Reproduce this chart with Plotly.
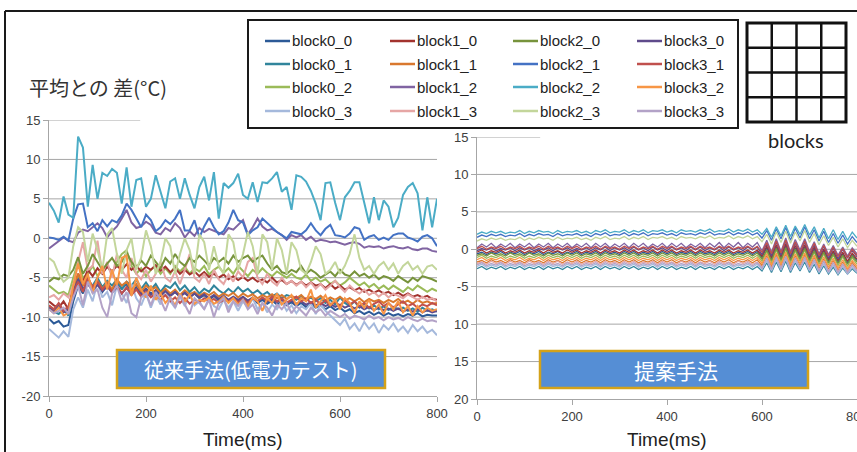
import plotly.graph_objects as go

W, H = 857, 452

time_ms = list(range(0, 801, 10))
x_ticks = [0, 200, 400, 600, 800]
x_ticktext = ["0", "200", "400", "600", "800"]
y_ticks = [-20, -15, -10, -5, 0, 5, 10, 15]
left_y_ticktext = ["-20", "-15", "-10", "-5", "0", "5", "10", "15"]
right_y_ticktext = ["20", "15", "10", "-5", "0", "5", "10", "15"]

# legend order (row-major, 4 columns)
block_names = ["block0_0", "block1_0", "block2_0", "block3_0",
               "block0_1", "block1_1", "block2_1", "block3_1",
               "block0_2", "block1_2", "block2_2", "block3_2",
               "block0_3", "block1_3", "block2_3", "block3_3"]
block_colors = ["#2C5A97", "#A2332E", "#77933C", "#5F4B8B",
                "#31859C", "#D9782E", "#4472C4", "#C0504D",
                "#9BBB59", "#8064A2", "#4BACC6", "#F79646",
                "#A5B9DC", "#E6A6A5", "#C3D69B", "#B3A2C7"]

# ---------------- left chart (conventional method) ----------------
left_b00 = [-10.2,-10.8,-10.5,-11.2,-11.0,-8.0,-6.0,-7.0,-5.5,-6.5,
            -5.8,-6.8,-6.0,-6.6,-5.6,-6.4,-5.8,-6.8,-6.2,-7.0,
            -6.4,-7.0,-6.6,-7.2,-6.5,-7.3,-6.8,-7.4,-6.9,-7.5,
            -7.0,-7.6,-7.2,-7.8,-7.3,-7.9,-7.4,-8.0,-7.5,-8.0,
            -7.6,-8.1,-7.6,-8.2,-7.8,-8.3,-7.9,-8.4,-8.0,-8.5,
            -8.1,-8.6,-8.2,-8.7,-8.3,-8.8,-8.5,-9.0,-8.6,-9.1,
            -8.8,-9.3,-9.0,-9.5,-9.2,-9.6,-9.3,-9.7,-9.4,-9.8,
            -9.5,-9.8,-9.6,-9.9,-9.6,-9.8,-9.5,-9.9,-9.7,-9.8,
            -9.8]
left_b10 = [-8.0,-8.5,-8.8,-8.0,-9.0,-6.0,-4.5,-5.5,-4.0,-4.8,
            -3.8,-4.5,-3.6,-4.2,-3.5,-4.0,-3.3,-4.0,-3.5,-4.2,
            -3.6,-4.0,-3.4,-4.1,-3.6,-4.3,-3.8,-4.5,-4.0,-4.6,
            -4.2,-4.8,-4.3,-4.9,-4.5,-5.0,-4.6,-5.2,-4.8,-5.3,
            -4.9,-5.4,-5.0,-5.5,-5.2,-5.6,-5.0,-5.6,-5.3,-5.8,
            -5.4,-5.9,-5.5,-6.0,-5.6,-6.0,-5.8,-6.3,-5.8,-6.4,
            -6.0,-6.5,-6.2,-6.6,-6.3,-6.8,-6.5,-6.9,-6.6,-7.0,
            -6.8,-7.2,-6.9,-7.3,-7.0,-7.4,-7.2,-7.5,-7.3,-7.7,
            -7.8]
left_b20 = [-5.5,-5.0,-5.2,-4.6,-4.8,-4.0,-2.4,-4.5,-3.5,-2.0,
            -3.0,-4.0,-3.2,-2.5,-3.5,-3.0,-1.8,-3.0,-3.8,-2.8,
            -3.5,-2.2,-3.0,-3.8,-2.5,-3.2,-2.0,-3.0,-3.5,-2.5,
            -3.0,-2.2,-2.8,-3.5,-2.5,-3.0,-2.5,-3.2,-2.2,-3.0,
            -2.5,-2.2,-3.0,-2.5,-2.2,-3.2,-4.0,-3.5,-4.3,-4.5,
            -4.0,-4.3,-3.5,-4.5,-4.0,-4.4,-5.0,-4.6,-4.2,-4.8,
            -4.0,-4.6,-4.8,-4.2,-4.8,-4.5,-5.0,-4.6,-5.2,-4.8,
            -5.0,-5.4,-4.8,-5.2,-5.6,-5.0,-5.4,-4.8,-5.0,-5.2,
            -5.5]
left_b30 = [-8.8,-9.2,-8.6,-9.4,-9.0,-6.8,-5.2,-6.4,-5.8,-6.6,
            -5.9,-6.7,-6.1,-6.9,-6.2,-7.0,-6.3,-7.0,-6.4,-7.1,
            -6.5,-7.2,-6.6,-7.3,-6.7,-7.3,-6.8,-7.4,-6.9,-7.5,
            -7.0,-7.5,-7.1,-7.6,-7.2,-7.7,-7.3,-7.8,-7.4,-7.8,
            -7.4,-7.9,-7.5,-8.0,-7.6,-8.0,-7.7,-8.1,-7.8,-8.2,
            -7.9,-8.3,-8.0,-8.4,-8.1,-8.5,-8.2,-8.6,-8.3,-8.7,
            -8.4,-8.8,-8.5,-8.9,-8.6,-9.0,-8.7,-9.1,-8.8,-9.1,
            -8.9,-9.2,-8.9,-9.3,-9.0,-9.3,-9.0,-9.4,-9.1,-9.4,
            -9.2]
left_b01 = [-9.0,-9.3,-9.6,-9.0,-9.8,-7.0,-5.0,-6.5,-5.5,-6.0,
            -5.0,-6.2,-5.4,-6.0,-5.2,-6.5,-5.5,-6.0,-5.2,-6.4,
            -5.6,-6.5,-5.8,-6.8,-6.0,-6.3,-5.6,-6.6,-6.0,-6.8,
            -6.2,-7.0,-6.4,-6.8,-6.0,-6.6,-7.0,-6.4,-6.9,-6.2,
            -6.8,-6.4,-7.0,-6.6,-7.2,-6.8,-7.4,-7.0,-7.6,-7.2,
            -7.4,-7.8,-7.3,-7.9,-7.5,-8.0,-7.6,-8.2,-7.8,-8.4,
            -7.5,-8.2,-8.6,-8.0,-8.8,-8.3,-8.9,-8.5,-9.0,-8.6,
            -9.1,-8.7,-9.0,-8.8,-9.2,-8.9,-9.3,-8.8,-9.2,-9.0,
            -9.3]
left_b11 = [-8.6,-9.0,-8.4,-9.2,-8.8,-6.5,-4.5,-6.0,-5.0,-6.2,
            -5.4,-6.4,-5.6,-6.5,-5.2,-6.0,-5.5,-6.6,-5.8,-6.8,
            -6.0,-6.6,-6.2,-7.0,-6.4,-7.0,-6.5,-7.2,-6.6,-7.1,
            -6.8,-7.3,-6.9,-7.2,-6.8,-7.4,-7.0,-7.3,-6.9,-7.5,
            -7.0,-7.4,-7.1,-7.6,-7.2,-7.5,-7.1,-7.6,-7.2,-7.7,
            -7.3,-7.6,-7.2,-7.8,-7.4,-7.7,-7.3,-7.9,-7.5,-7.8,
            -7.4,-7.9,-7.6,-8.0,-7.6,-8.1,-7.7,-8.0,-7.8,-8.2,
            -7.8,-8.1,-7.7,-8.2,-7.9,-8.3,-7.8,-8.2,-8.0,-8.3,
            -8.2]
left_b21 = [0.1,0.0,-0.2,0.2,-0.3,2.5,4.3,4.4,1.4,1.9,
            0.9,2.3,1.5,2.3,2.0,2.9,4.4,3.6,2.5,1.4,
            3.0,2.3,0.9,1.4,2.3,1.8,2.5,3.6,1.0,1.0,
            2.3,0.1,1.5,2.6,1.4,0.5,0.9,2.0,3.6,2.3,
            2.0,0.4,1.0,1.4,2.5,1.9,1.3,0.8,0.4,0.0,
            0.8,0.6,0.5,1.0,1.9,1.0,0.4,1.2,1.7,0.4,
            0.3,0.1,0.6,1.4,1.2,-0.2,0.2,0.4,-0.2,0.1,
            -0.2,0.4,0.6,0.6,0.1,-0.1,-0.4,0.2,0.4,0.0,
            -1.0]
left_b31 = [-8.5,-9.0,-8.2,-9.2,-8.6,-7.0,-5.5,-6.8,-5.0,-6.2,
            -5.5,-6.5,-5.8,-6.8,-6.0,-7.0,-6.2,-7.2,-6.5,-7.4,
            -6.8,-7.5,-7.0,-7.8,-7.2,-8.0,-7.5,-8.2,-7.6,-8.3,
            -7.8,-8.1,-7.6,-8.0,-7.7,-8.2,-7.8,-8.0,-7.6,-8.1,
            -7.7,-8.2,-7.6,-8.0,-7.5,-7.9,-7.4,-8.0,-7.6,-8.2,
            -7.8,-7.4,-8.0,-7.6,-8.2,-7.8,-8.4,-7.9,-8.5,-8.0,
            -8.6,-7.8,-8.4,-8.0,-8.6,-8.2,-8.8,-8.3,-8.0,-8.6,
            -8.2,-8.8,-8.4,-8.0,-8.6,-8.3,-8.8,-8.4,-8.6,-8.2,
            -8.5]
left_b02 = [-6.0,-6.5,-7.0,-6.8,-7.2,-5.0,-3.0,-5.0,-4.5,-3.5,
            -4.8,-4.0,-3.5,-4.5,-3.0,-2.0,-1.5,-3.5,-4.5,-3.8,
            -4.8,-4.0,-3.5,-4.5,-3.8,-4.5,-3.5,-4.2,-3.6,-4.5,
            -3.8,-4.2,-3.5,-4.6,-4.0,-3.6,-4.4,-3.8,-4.5,-3.5,
            -4.2,-4.8,-4.0,-4.5,-3.8,-4.4,-4.8,-4.2,-4.6,-5.0,
            -4.5,-5.0,-5.2,-4.6,-5.4,-5.0,-5.5,-5.2,-5.8,-5.4,
            -6.0,-5.6,-5.0,-5.5,-6.0,-5.6,-6.2,-5.8,-6.4,-6.0,
            -6.5,-6.0,-6.4,-6.8,-6.2,-6.6,-6.0,-6.4,-6.8,-6.4,
            -6.7]
left_b12 = [-1.3,-0.8,-0.4,0.1,-0.3,-0.5,0.7,1.1,0.9,1.4,
            1.9,1.3,0.1,0.9,1.5,2.5,3.6,2.0,1.3,1.5,
            2.1,1.7,0.7,0.5,1.3,0.9,1.9,1.3,0.1,0.9,
            0.3,1.3,0.8,1.2,0.9,0.7,0.5,1.3,1.1,1.7,
            2.3,0.5,1.4,2.5,1.5,1.0,1.2,0.8,0.4,-0.2,
            0.4,0.1,0.4,-0.2,0.2,-0.4,-0.2,-0.3,-0.5,-0.4,
            -0.6,-0.8,-0.6,-0.5,-0.7,-1.2,-1.0,-1.1,-1.0,-1.3,
            -1.1,-1.0,-1.2,-1.3,-1.1,-1.4,-1.5,-1.3,-1.3,-1.6,
            -1.7]
left_b22 = [4.5,3.5,2.0,5.3,3.0,2.6,12.9,11.5,4.0,9.3,
            5.0,8.3,7.9,8.8,8.3,4.4,9.0,4.0,7.4,7.6,
            4.0,5.0,8.0,5.8,3.8,7.2,7.6,5.0,7.6,5.5,
            3.8,6.5,7.8,4.8,8.4,2.5,7.0,6.4,7.0,8.2,
            5.5,5.0,7.1,4.6,7.1,7.0,7.6,8.4,5.9,6.5,
            3.6,8.0,7.8,7.2,6.0,4.4,2.3,7.0,7.1,4.5,
            2.3,5.2,6.0,7.1,7.1,4.5,1.9,5.2,2.3,4.8,
            4.0,1.4,2.6,5.5,6.5,7.0,5.7,1.0,5.2,1.4,
            5.0]
left_b32 = [-9.0,-9.5,-8.8,-9.8,-9.5,-6.0,-3.2,-5.8,-4.5,-6.9,
            -5.0,-3.5,-6.5,-4.0,-6.0,-2.5,-2.2,-7.3,-5.0,-6.5,
            -7.5,-6.0,-7.8,-7.0,-8.2,-7.5,-8.5,-7.0,-8.0,-7.2,
            -8.3,-7.8,-8.0,-7.5,-8.3,-8.0,-7.4,-8.2,-7.6,-8.4,
            -7.8,-8.6,-7.5,-8.0,-9.2,-7.6,-8.2,-7.0,-8.4,-7.8,
            -7.2,-8.5,-7.6,-8.0,-6.5,-8.8,-8.0,-7.2,-8.5,-7.8,
            -9.0,-7.6,-8.2,-9.5,-8.0,-8.8,-7.8,-9.2,-8.4,-9.6,
            -8.2,-9.0,-8.0,-9.4,-8.6,-9.8,-8.6,-9.4,-8.8,-9.2,
            -9.0]
left_b03 = [-11.5,-12.0,-12.6,-11.8,-12.5,-9.0,-7.5,-8.8,-6.5,-8.0,
            -5.5,-7.5,-6.8,-8.5,-6.0,-7.0,-8.2,-5.8,-7.6,-8.5,
            -7.0,-8.8,-7.2,-8.4,-6.5,-8.0,-8.8,-7.4,-8.6,-7.0,
            -8.5,-8.0,-9.0,-7.5,-8.6,-9.0,-7.8,-8.8,-8.0,-9.2,
            -8.0,-8.8,-7.6,-9.0,-8.2,-9.4,-8.4,-9.0,-8.0,-9.2,
            -8.5,-9.5,-8.6,-9.0,-8.2,-9.6,-8.4,-9.2,-9.8,-10.5,
            -11.0,-10.2,-11.5,-10.8,-11.8,-10.6,-11.5,-10.8,-12.0,-11.0,
            -11.6,-10.8,-11.8,-11.2,-12.0,-11.0,-11.8,-11.2,-12.0,-11.6,
            -12.3]
left_b13 = [-7.5,-7.2,-7.8,-7.0,-7.5,-6.0,-3.0,-0.5,-4.0,-3.5,
            -0.3,-4.5,-3.0,-5.0,-2.0,-4.0,-5.0,-2.5,-4.5,-5.2,
            -4.0,-5.5,-4.5,-3.0,-5.0,-5.5,-4.2,-5.8,-4.0,-2.0,
            -5.0,-5.5,-4.5,-5.8,-4.0,-5.2,-5.8,-4.6,-5.5,-4.2,
            -5.0,-3.0,-2.5,-5.0,-5.8,-4.5,-5.5,-6.0,-5.0,-5.8,
            -5.4,-6.0,-5.5,-6.2,-5.6,-6.4,-5.8,-6.5,-6.0,-5.4,
            -6.2,-6.8,-6.0,-6.6,-7.0,-6.5,-7.2,-6.8,-7.4,-6.9,
            -7.5,-7.0,-7.3,-7.6,-7.1,-7.5,-7.8,-7.4,-7.8,-7.6,
            -8.0]
left_b23 = [-2.5,-3.0,-4.5,-5.5,-5.0,-1.0,1.4,0.8,-3.0,0.6,
            -1.5,-4.0,0.5,1.3,-2.0,-4.5,-1.5,0.0,-4.0,-2.5,
            1.0,-1.0,-4.5,-3.0,0.0,-1.0,-4.5,-2.0,0.0,-1.5,
            -4.5,0.5,-0.5,-4.0,-1.0,-3.5,-4.5,0.5,-0.5,-4.0,
            -2.0,0.8,-1.0,-4.5,0.5,-0.5,-4.0,0.0,-1.5,-4.5,
            -0.5,-1.5,-4.0,-4.5,-3.0,-1.0,-2.0,-4.5,-4.0,-3.0,
            -4.5,-3.5,-2.0,0.5,-2.5,-4.0,-3.5,-4.5,-3.5,-3.0,
            -4.0,-3.2,-4.5,-3.5,-3.0,-4.0,-3.5,-4.5,-3.6,-3.4,
            -4.0]
left_b33 = [-9.0,-9.5,-9.2,-8.8,-9.6,-7.5,-6.0,-8.5,-5.5,-7.0,
            -6.5,-8.8,-10.0,-7.0,-6.0,-8.0,-6.8,-9.5,-10.0,-7.5,
            -7.0,-8.5,-6.8,-7.8,-9.2,-7.5,-8.8,-7.2,-8.4,-9.6,
            -7.6,-8.2,-9.0,-7.8,-10.0,-8.2,-7.6,-9.4,-8.0,-8.6,
            -7.8,-9.0,-8.4,-9.6,-8.2,-8.8,-9.8,-8.4,-9.0,-8.2,
            -9.5,-8.6,-9.2,-9.8,-8.8,-9.4,-9.0,-9.8,-9.2,-9.6,
            -10.0,-9.6,-10.2,-9.8,-10.0,-10.3,-9.8,-10.2,-10.0,-10.4,
            -10.0,-10.3,-10.1,-10.4,-10.0,-10.3,-10.5,-10.2,-10.5,-10.4,
            -10.6]

# ---------------- right chart (proposed method) ----------------
right_b00 = [-0.6,-0.4,-0.7,-0.4,-0.6,-0.3,-0.7,-0.4,-0.6,-0.3,
             -0.7,-0.4,-0.6,-0.3,-0.7,-0.4,-0.6,-0.3,-0.7,-0.4,
             -0.6,-0.3,-0.7,-0.4,-0.6,-0.3,-0.7,-0.3,-0.6,-0.4,
             -0.7,-0.3,-0.6,-0.3,-0.7,-0.4,-0.6,-0.3,-0.7,-0.3,
             -0.6,-0.3,-0.7,-0.4,-0.6,-0.3,-0.7,-0.3,-0.6,-0.4,
             -0.7,-0.3,-0.6,-0.3,-0.7,-0.4,-0.6,-0.3,-0.7,-0.3,
             -1.1,0.2,-1.3,0.3,-1.2,0.4,-1.3,0.2,-1.1,0.3,
             -1.3,0.0,-1.5,-0.2,-1.6,-0.4,-1.7,-0.6,-1.8,-0.7,
             -1.5]
right_b10 = [-0.4,-0.1,-0.5,-0.2,-0.4,-0.1,-0.5,-0.2,-0.4,-0.1,
             -0.5,-0.2,-0.4,-0.1,-0.5,-0.1,-0.4,-0.2,-0.5,-0.1,
             -0.4,-0.1,-0.5,-0.2,-0.4,-0.1,-0.5,-0.1,-0.4,-0.2,
             -0.5,-0.1,-0.4,-0.1,-0.5,-0.2,-0.4,-0.1,-0.5,-0.1,
             -0.4,-0.1,-0.5,-0.2,-0.4,-0.1,-0.5,-0.1,-0.4,-0.2,
             -0.5,-0.1,-0.4,-0.1,-0.5,-0.2,-0.4,-0.1,-0.5,-0.1,
             -0.9,0.4,-1.1,0.6,-1.0,0.7,-1.1,0.5,-0.9,0.6,
             -1.1,0.3,-1.3,0.0,-1.4,-0.2,-1.5,-0.4,-1.6,-0.5,
             -1.3]
right_b20 = [-0.8,-0.6,-0.9,-0.5,-0.8,-0.6,-0.9,-0.5,-0.8,-0.6,
             -0.9,-0.5,-0.8,-0.6,-0.9,-0.5,-0.8,-0.6,-0.9,-0.5,
             -0.8,-0.5,-0.9,-0.6,-0.8,-0.5,-0.9,-0.5,-0.8,-0.6,
             -0.9,-0.5,-0.8,-0.5,-0.9,-0.6,-0.8,-0.5,-0.9,-0.5,
             -0.8,-0.5,-0.9,-0.6,-0.8,-0.5,-0.9,-0.5,-0.8,-0.6,
             -0.9,-0.5,-0.8,-0.5,-0.9,-0.6,-0.8,-0.5,-0.9,-0.5,
             -1.3,-0.1,-1.5,0.1,-1.4,0.2,-1.5,0.0,-1.3,0.1,
             -1.5,-0.2,-1.7,-0.4,-1.8,-0.6,-1.9,-0.8,-2.0,-0.9,
             -1.7]
right_b30 = [-0.2,0.1,-0.1,0.2,-0.2,0.1,-0.1,0.2,-0.2,0.2,
             -0.1,0.2,-0.2,0.1,-0.1,0.2,-0.2,0.2,-0.1,0.2,
             -0.2,0.1,-0.1,0.2,-0.2,0.2,-0.1,0.3,-0.2,0.2,
             -0.1,0.2,-0.2,0.3,-0.1,0.2,-0.2,0.3,-0.1,0.2,
             -0.2,0.3,-0.1,0.2,-0.2,0.3,-0.1,0.3,-0.2,0.2,
             -0.1,0.3,-0.2,0.3,-0.1,0.2,-0.2,0.3,-0.1,0.3,
             -0.7,0.8,-0.9,1.0,-0.8,1.1,-1.0,0.9,-0.7,1.0,
             -0.9,0.6,-1.1,0.4,-1.2,0.2,-1.3,0.0,-1.2,-0.1,
             -1.0]
right_b01 = [-2.6,-2.3,-2.7,-2.4,-2.6,-2.3,-2.7,-2.4,-2.6,-2.3,
             -2.7,-2.4,-2.6,-2.3,-2.7,-2.3,-2.6,-2.4,-2.7,-2.3,
             -2.6,-2.3,-2.7,-2.4,-2.6,-2.3,-2.7,-2.3,-2.6,-2.4,
             -2.7,-2.3,-2.6,-2.3,-2.7,-2.4,-2.6,-2.3,-2.7,-2.3,
             -2.6,-2.3,-2.7,-2.4,-2.6,-2.3,-2.7,-2.3,-2.6,-2.4,
             -2.7,-2.3,-2.6,-2.3,-2.7,-2.4,-2.6,-2.3,-2.7,-2.3,
             -2.9,-1.8,-3.1,-1.7,-3.0,-1.6,-3.1,-1.8,-2.9,-1.7,
             -3.1,-2.0,-3.3,-2.2,-3.3,-2.4,-3.4,-2.5,-3.3,-2.6,
             -3.2]
right_b11 = [-1.7,-1.5,-1.8,-1.4,-1.7,-1.5,-1.8,-1.4,-1.7,-1.5,
             -1.8,-1.4,-1.7,-1.5,-1.8,-1.4,-1.7,-1.5,-1.8,-1.4,
             -1.7,-1.4,-1.8,-1.5,-1.7,-1.4,-1.8,-1.4,-1.7,-1.5,
             -1.8,-1.4,-1.7,-1.4,-1.8,-1.5,-1.7,-1.4,-1.8,-1.4,
             -1.7,-1.4,-1.8,-1.5,-1.7,-1.4,-1.8,-1.4,-1.7,-1.5,
             -1.8,-1.4,-1.7,-1.4,-1.8,-1.5,-1.7,-1.4,-1.8,-1.4,
             -2.2,-0.9,-2.4,-0.8,-2.3,-0.7,-2.4,-0.9,-2.2,-0.8,
             -2.4,-1.1,-2.6,-1.3,-2.7,-1.5,-2.8,-1.7,-2.9,-1.8,
             -2.6]
right_b21 = [1.6,1.9,1.7,2.0,1.8,2.0,1.7,1.9,1.8,2.1,
             1.7,2.0,1.8,2.1,1.9,2.0,1.7,2.1,1.8,2.0,
             1.9,2.1,1.8,2.0,1.7,2.1,1.9,2.2,1.8,2.0,
             1.9,2.2,1.8,2.1,1.9,2.2,1.8,2.1,2.0,2.2,
             1.9,2.1,1.8,2.2,2.0,2.1,1.9,2.2,2.0,2.3,
             1.9,2.1,2.0,2.3,1.9,2.2,2.0,2.3,1.9,2.2,
             1.5,2.5,1.2,2.7,1.4,2.9,1.2,2.8,1.5,3.0,
             1.4,2.6,1.1,2.4,0.9,2.1,0.8,1.9,0.7,1.7,
             0.9]
right_b31 = [0.1,0.4,0.0,0.3,0.1,0.4,0.0,0.3,0.1,0.4,
             0.0,0.3,0.1,0.4,0.0,0.4,0.1,0.3,0.0,0.4,
             0.1,0.4,0.0,0.3,0.1,0.4,0.0,0.4,0.1,0.3,
             0.0,0.4,0.1,0.4,0.0,0.3,0.1,0.4,0.0,0.4,
             0.1,0.4,0.0,0.3,0.1,0.4,0.0,0.4,0.1,0.3,
             0.0,0.4,0.1,0.4,0.0,0.3,0.1,0.4,0.0,0.4,
             -0.4,0.9,-0.6,1.1,-0.5,1.2,-0.6,1.0,-0.4,1.1,
             -0.6,0.8,-0.8,0.5,-0.9,0.3,-1.0,0.1,-1.1,0.0,
             -0.8]
right_b02 = [-1.1,-0.8,-1.2,-0.9,-1.1,-0.8,-1.2,-0.9,-1.1,-0.8,
             -1.2,-0.9,-1.1,-0.8,-1.2,-0.8,-1.1,-0.9,-1.2,-0.8,
             -1.1,-0.8,-1.2,-0.9,-1.1,-0.8,-1.2,-0.8,-1.1,-0.9,
             -1.2,-0.8,-1.1,-0.8,-1.2,-0.9,-1.1,-0.8,-1.2,-0.8,
             -1.1,-0.8,-1.2,-0.9,-1.1,-0.8,-1.2,-0.8,-1.1,-0.9,
             -1.2,-0.8,-1.1,-0.8,-1.2,-0.9,-1.1,-0.8,-1.2,-0.8,
             -1.6,-0.3,-1.8,-0.1,-1.7,0.0,-1.8,-0.2,-1.6,-0.1,
             -1.8,-0.4,-2.0,-0.6,-2.1,-0.8,-2.2,-1.0,-2.3,-1.1,
             -2.0]
right_b12 = [0.2,0.7,0.3,0.8,0.2,0.7,0.3,0.8,0.2,0.7,
             0.3,0.8,0.2,0.7,0.3,0.8,0.2,0.7,0.3,0.8,
             0.2,0.7,0.3,0.8,0.2,0.8,0.3,0.8,0.2,0.7,
             0.3,0.8,0.2,0.8,0.3,0.8,0.2,0.7,0.3,0.8,
             0.2,0.8,0.3,0.8,0.2,0.7,0.3,0.8,0.2,0.8,
             0.3,0.9,0.2,0.8,0.3,0.9,0.2,0.8,0.3,0.9,
             -0.2,1.2,-0.4,1.4,-0.3,1.5,-0.4,1.3,-0.1,1.4,
             -0.3,1.0,-0.6,0.7,-0.7,0.5,-0.8,0.3,-0.9,0.2,
             -0.6]
right_b22 = [2.0,2.3,2.1,2.4,2.2,2.4,2.1,2.3,2.2,2.5,
             2.1,2.4,2.2,2.5,2.3,2.4,2.1,2.5,2.2,2.4,
             2.3,2.5,2.2,2.4,2.1,2.5,2.3,2.6,2.2,2.4,
             2.3,2.6,2.2,2.5,2.3,2.6,2.2,2.5,2.4,2.6,
             2.3,2.5,2.2,2.6,2.4,2.5,2.3,2.6,2.4,2.7,
             2.3,2.5,2.4,2.7,2.3,2.6,2.4,2.7,2.3,2.6,
             2.0,2.8,1.6,3.0,1.8,3.2,1.7,3.1,2.0,3.3,
             1.9,3.0,1.5,2.8,1.4,2.6,1.3,2.4,1.2,2.3,
             1.5]
right_b32 = [-1.4,-1.1,-1.5,-1.2,-1.4,-1.1,-1.5,-1.2,-1.4,-1.1,
             -1.5,-1.2,-1.4,-1.1,-1.5,-1.1,-1.4,-1.2,-1.5,-1.1,
             -1.4,-1.1,-1.5,-1.2,-1.4,-1.1,-1.5,-1.1,-1.4,-1.2,
             -1.5,-1.1,-1.4,-1.1,-1.5,-1.2,-1.4,-1.1,-1.5,-1.1,
             -1.4,-1.1,-1.5,-1.2,-1.4,-1.1,-1.5,-1.1,-1.4,-1.2,
             -1.5,-1.1,-1.4,-1.1,-1.5,-1.2,-1.4,-1.1,-1.5,-1.1,
             -1.9,-0.6,-2.1,-0.5,-2.0,-0.4,-2.1,-0.6,-1.9,-0.5,
             -2.1,-0.8,-2.3,-1.0,-2.4,-1.2,-2.5,-1.4,-2.6,-1.5,
             -2.3]
right_b03 = [-2.3,-2.0,-2.4,-2.1,-2.3,-2.0,-2.4,-2.1,-2.3,-2.0,
             -2.4,-2.1,-2.3,-2.0,-2.4,-2.0,-2.3,-2.1,-2.4,-2.0,
             -2.3,-2.0,-2.4,-2.1,-2.3,-2.0,-2.4,-2.0,-2.3,-2.1,
             -2.4,-2.0,-2.3,-2.0,-2.4,-2.1,-2.3,-2.0,-2.4,-2.0,
             -2.3,-2.0,-2.4,-2.1,-2.3,-2.0,-2.4,-2.0,-2.3,-2.1,
             -2.4,-2.0,-2.3,-2.0,-2.4,-2.1,-2.3,-2.0,-2.4,-2.0,
             -2.7,-1.5,-2.9,-1.4,-2.8,-1.3,-2.9,-1.5,-2.7,-1.4,
             -2.9,-1.7,-3.1,-1.9,-3.2,-2.1,-3.3,-2.3,-3.3,-2.4,
             -3.1]
right_b13 = [-1.9,-1.7,-2.0,-1.6,-1.9,-1.7,-2.0,-1.6,-1.9,-1.7,
             -2.0,-1.6,-1.9,-1.7,-2.0,-1.6,-1.9,-1.6,-2.0,-1.7,
             -1.9,-1.6,-2.0,-1.7,-1.9,-1.6,-2.0,-1.6,-1.9,-1.7,
             -2.0,-1.6,-1.9,-1.6,-2.0,-1.7,-1.9,-1.6,-2.0,-1.6,
             -1.9,-1.7,-2.0,-1.6,-1.9,-1.6,-2.0,-1.7,-1.9,-1.6,
             -2.0,-1.6,-1.9,-1.7,-2.0,-1.6,-1.9,-1.6,-2.0,-1.7,
             -2.4,-1.1,-2.6,-1.0,-2.5,-0.9,-2.6,-1.1,-2.4,-1.0,
             -2.6,-1.3,-2.8,-1.5,-2.9,-1.7,-3.0,-1.9,-3.0,-2.0,
             -2.8]
right_b23 = [1.1,1.4,1.2,1.5,1.3,1.5,1.2,1.4,1.3,1.6,
             1.2,1.5,1.3,1.6,1.4,1.5,1.2,1.6,1.3,1.5,
             1.4,1.6,1.3,1.5,1.2,1.6,1.4,1.7,1.3,1.5,
             1.4,1.7,1.3,1.6,1.4,1.7,1.3,1.6,1.5,1.7,
             1.4,1.6,1.3,1.7,1.5,1.6,1.4,1.7,1.5,1.8,
             1.4,1.6,1.5,1.8,1.4,1.7,1.5,1.8,1.4,1.7,
             1.0,2.0,0.7,2.3,0.9,2.4,0.8,2.3,1.1,2.5,
             0.9,2.1,0.6,1.8,0.5,1.6,0.3,1.4,0.2,1.2,
             0.4]
right_b33 = [-2.1,-1.8,-2.2,-1.9,-2.1,-1.8,-2.2,-1.9,-2.1,-1.8,
             -2.2,-1.9,-2.1,-1.8,-2.2,-1.8,-2.1,-1.9,-2.2,-1.8,
             -2.1,-1.8,-2.2,-1.9,-2.1,-1.8,-2.2,-1.8,-2.1,-1.9,
             -2.2,-1.8,-2.1,-1.8,-2.2,-1.9,-2.1,-1.8,-2.2,-1.8,
             -2.1,-1.8,-2.2,-1.9,-2.1,-1.8,-2.2,-1.8,-2.1,-1.9,
             -2.2,-1.8,-2.1,-1.8,-2.2,-1.9,-2.1,-1.8,-2.2,-1.8,
             -2.5,-1.2,-2.7,-1.1,-2.6,-1.0,-2.7,-1.2,-2.5,-1.1,
             -2.7,-1.4,-2.9,-1.6,-3.0,-1.8,-3.1,-2.0,-3.1,-2.1,
             -2.9]

left_series = [left_b00, left_b10, left_b20, left_b30,
               left_b01, left_b11, left_b21, left_b31,
               left_b02, left_b12, left_b22, left_b32,
               left_b03, left_b13, left_b23, left_b33]
right_series = [right_b00, right_b10, right_b20, right_b30,
                right_b01, right_b11, right_b21, right_b31,
                right_b02, right_b12, right_b22, right_b32,
                right_b03, right_b13, right_b23, right_b33]

label_left_box = "従来手法(低電力テスト)"
label_right_box = "提案手法"
y_title = "平均との 差(°C)"
x_title = "Time(ms)"
blocks_label = "blocks"


def fx(px):
    return px / W


def fy(py):
    return 1 - py / H


fig = go.Figure()

# draw order: column-major (block0_x first, block3_x last)
draw_order = [0, 4, 8, 12, 1, 5, 9, 13, 2, 6, 10, 14, 3, 7, 11, 15]
for i in draw_order:
    fig.add_trace(go.Scatter(x=time_ms, y=left_series[i], mode="lines",
                             name=block_names[i], showlegend=False,
                             line=dict(color=block_colors[i], width=2),
                             xaxis="x", yaxis="y"))
for i in draw_order:
    fig.add_trace(go.Scatter(x=time_ms, y=right_series[i], mode="lines",
                             name=block_names[i], showlegend=False,
                             line=dict(color=block_colors[i], width=1.3),
                             xaxis="x2", yaxis="y2"))

grid_col = "#A6A6A6"
tick_font = dict(family="Liberation Sans, Arial, sans-serif", size=13, color="#404040")
axis_common = dict(showgrid=False, zeroline=False, showline=True, linecolor=grid_col,
                   linewidth=1, ticks="outside", ticklen=5, tickcolor=grid_col,
                   tickfont=tick_font, fixedrange=True, automargin=False)

fig.update_layout(
    width=W, height=H,
    margin=dict(l=0, r=0, t=0, b=0, pad=0, autoexpand=False),
    paper_bgcolor="white", plot_bgcolor="white",
    showlegend=False,
    xaxis=dict(domain=[fx(49), fx(437)], range=[0, 800], anchor="y",
               tickvals=x_ticks, ticktext=x_ticktext, **axis_common),
    yaxis=dict(domain=[fy(396), fy(120)], range=[-20, 15], anchor="x",
               tickvals=y_ticks, ticktext=left_y_ticktext, **axis_common),
    xaxis2=dict(domain=[fx(477), 1.0], range=[0, 800], anchor="y2",
                tickvals=x_ticks, ticktext=x_ticktext, **axis_common),
    yaxis2=dict(domain=[fy(399), fy(137)], range=[-20, 15], anchor="x2",
                tickvals=y_ticks, ticktext=right_y_ticktext, **axis_common),
)

shapes = []
# horizontal gridlines
for v in [-15, -10, -5, 0, 5, 10]:
    shapes.append(dict(type="line", xref="x", yref="y", x0=0, x1=800, y0=v, y1=v,
                       line=dict(color=grid_col, width=1), layer="below"))
    shapes.append(dict(type="line", xref="x2", yref="y2", x0=0, x1=800, y0=v, y1=v,
                       line=dict(color=grid_col, width=1), layer="below"))
shapes.append(dict(type="line", xref="x", yref="y", x0=0, x1=188, y0=15, y1=15,
                   line=dict(color=grid_col, width=1), layer="below"))
shapes.append(dict(type="line", xref="x2", yref="y2", x0=0, x1=133, y0=15, y1=15,
                   line=dict(color=grid_col, width=1), layer="below"))

# outer frame (top and left)
shapes.append(dict(type="line", xref="paper", yref="paper", x0=fx(5), x1=1.0,
                   y0=fy(11), y1=fy(11), line=dict(color="#1a1a1a", width=2)))
shapes.append(dict(type="line", xref="paper", yref="paper", x0=fx(5), x1=fx(5),
                   y0=fy(11), y1=0, line=dict(color="#1a1a1a", width=2)))

# legend box
shapes.append(dict(type="rect", xref="paper", yref="paper", x0=fx(248), x1=fx(738),
                   y0=fy(128), y1=fy(20), fillcolor="white",
                   line=dict(color="#1a1a1a", width=2)))

annotations = []
col_x = [265, 390, 513, 637]
row_y = [41, 64, 87, 111]
for k, name in enumerate(block_names):
    r, c = divmod(k, 4)
    x0 = col_x[c]
    y0 = row_y[r]
    shapes.append(dict(type="line", xref="paper", yref="paper", x0=fx(x0), x1=fx(x0 + 25),
                       y0=fy(y0), y1=fy(y0), line=dict(color=block_colors[k], width=2.5)))
    annotations.append(dict(text=name, xref="paper", yref="paper", x=fx(x0 + 25), y=fy(y0),
                            xanchor="left", yanchor="middle", showarrow=False,
                            font=dict(family="Liberation Sans, Arial, sans-serif", size=15,
                                      color="#222222")))

# blocks grid (4x4)
gx0, gx1, gy0, gy1 = 747, 846, 23, 122
shapes.append(dict(type="rect", xref="paper", yref="paper", x0=fx(gx0), x1=fx(gx1),
                   y0=fy(gy1), y1=fy(gy0), fillcolor="white",
                   line=dict(color="#111111", width=3)))
for j in range(1, 4):
    xx = gx0 + (gx1 - gx0) * j / 4
    yy = gy0 + (gy1 - gy0) * j / 4
    shapes.append(dict(type="line", xref="paper", yref="paper", x0=fx(xx), x1=fx(xx),
                       y0=fy(gy1), y1=fy(gy0), line=dict(color="#111111", width=2.5)))
    shapes.append(dict(type="line", xref="paper", yref="paper", x0=fx(gx0), x1=fx(gx1),
                       y0=fy(yy), y1=fy(yy), line=dict(color="#111111", width=2.5)))
annotations.append(dict(text=blocks_label, xref="paper", yref="paper", x=fx(796), y=fy(140),
                        xanchor="center", yanchor="middle", showarrow=False,
                        font=dict(family="Lato, sans-serif", size=20, color="#222222")))

# method boxes
box_fill = "#558ED5"
box_line = "#D4A21A"
shapes.append(dict(type="rect", xref="paper", yref="paper", x0=fx(117), x1=fx(385),
                   y0=fy(388), y1=fy(350), fillcolor=box_fill,
                   line=dict(color=box_line, width=2.5)))
shapes.append(dict(type="rect", xref="paper", yref="paper", x0=fx(540), x1=fx(808),
                   y0=fy(388), y1=fy(351), fillcolor=box_fill,
                   line=dict(color=box_line, width=2.5)))
annotations.append(dict(text=label_left_box, xref="paper", yref="paper", x=fx(251), y=fy(369),
                        xanchor="center", yanchor="middle", showarrow=False,
                        font=dict(family="Noto Sans CJK JP", size=20, color="white")))
annotations.append(dict(text=label_right_box, xref="paper", yref="paper", x=fx(676), y=fy(369.5),
                        xanchor="center", yanchor="middle", showarrow=False,
                        font=dict(family="Noto Sans CJK JP", size=21, color="white")))

# titles
annotations.append(dict(text=y_title, xref="paper", yref="paper", x=fx(27), y=fy(88),
                        xanchor="left", yanchor="middle", showarrow=False,
                        font=dict(family="Noto Sans CJK JP", size=20, color="#333333")))
annotations.append(dict(text=x_title, xref="paper", yref="paper", x=fx(243), y=fy(439),
                        xanchor="center", yanchor="middle", showarrow=False,
                        font=dict(family="Liberation Sans, Arial, sans-serif", size=19, color="#222222")))
annotations.append(dict(text=x_title, xref="paper", yref="paper", x=fx(667), y=fy(439),
                        xanchor="center", yanchor="middle", showarrow=False,
                        font=dict(family="Liberation Sans, Arial, sans-serif", size=19, color="#222222")))
# the right chart's last tick label sits on the picture's right edge (shown partly, as in the original)
annotations.append(dict(text=x_ticktext[-1], xref="x2", yref="paper", x=x_ticks[-1], y=fy(416),
                        xanchor="center", yanchor="middle", showarrow=False,
                        font=tick_font))

fig.update_layout(shapes=shapes, annotations=annotations)

# remove the default page margin so the figure sits at the window's top-left corner
fig.write_html("out.html",
               config={"displayModeBar": False},
               post_script="document.body.style.margin='0';document.body.style.overflow='hidden';")
